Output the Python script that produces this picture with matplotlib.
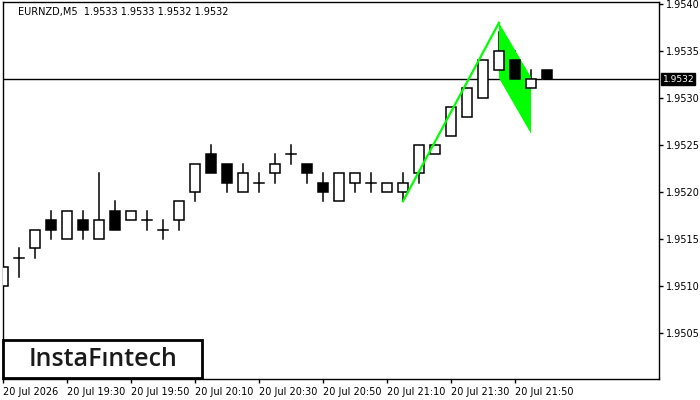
import matplotlib
matplotlib.use('Agg')
import matplotlib.pyplot as plt
from matplotlib.patches import Rectangle, Polygon

# candle data (5 min bars, EURNZD)
opens = [1.9510, 1.9513, 1.9514, 1.9517, 1.9515, 1.9517, 1.9515, 1.9518, 1.9517, 1.9517,
         1.9516, 1.9517, 1.9520, 1.9524, 1.9523, 1.9520, 1.9521, 1.9522, 1.9524, 1.9523,
         1.9521, 1.9519, 1.9521, 1.9521, 1.9520, 1.9520, 1.9522, 1.9524, 1.9526, 1.9528,
         1.9530, 1.9533, 1.9534, 1.9531, 1.9533]
highs = [1.9512, 1.9514, 1.9516, 1.9518, 1.9518, 1.9518, 1.9522, 1.9519, 1.9518, 1.9518,
         1.9517, 1.9519, 1.9523, 1.9525, 1.9523, 1.9523, 1.9522, 1.9524, 1.9525, 1.9523,
         1.9522, 1.9522, 1.9522, 1.9522, 1.9521, 1.9522, 1.9525, 1.9525, 1.9529, 1.9531,
         1.9534, 1.9537, 1.9535, 1.9533, 1.9533]
lows = [1.9509, 1.9511, 1.9513, 1.9515, 1.9515, 1.9515, 1.9515, 1.9516, 1.9517, 1.9516,
        1.9515, 1.9516, 1.9519, 1.9522, 1.9520, 1.9520, 1.9520, 1.9521, 1.9523, 1.9521,
        1.9519, 1.9519, 1.9520, 1.9520, 1.9520, 1.9519, 1.9521, 1.9524, 1.9526, 1.9528,
        1.9530, 1.9533, 1.9531, 1.9531, 1.9532]
closes = [1.9512, 1.9513, 1.9516, 1.9516, 1.9518, 1.9516, 1.9517, 1.9516, 1.9518, 1.9517,
          1.9516, 1.9519, 1.9523, 1.9522, 1.9521, 1.9522, 1.9521, 1.9523, 1.9524, 1.9522,
          1.9520, 1.9522, 1.9522, 1.9521, 1.9521, 1.9521, 1.9525, 1.9525, 1.9529, 1.9531,
          1.9534, 1.9535, 1.9532, 1.9532, 1.9532]

# bullish flag pattern: pole and flag
pole_x = [25, 31]
pole_y = [1.9519, 1.9538]
flag_x = [31, 33, 33, 31]
flag_y = [1.9538, 1.95322, 1.95262, 1.95321]

current_price = 1.9532
title = "EURNZD,M5  1.9533 1.9533 1.9532 1.9532"
yticks = [1.9505, 1.9510, 1.9515, 1.9520, 1.9525, 1.9530, 1.9535, 1.9540]
xtick_pos = [0, 4, 8, 12, 16, 20, 24, 28, 32]
xtick_labels = ["20 Jul 2026", "20 Jul 19:30", "20 Jul 19:50", "20 Jul 20:10", "20 Jul 20:30",
                "20 Jul 20:50", "20 Jul 21:10", "20 Jul 21:30", "20 Jul 21:50"]

fig = plt.figure(figsize=(7, 4), dpi=100)
ax = fig.add_axes([2.5 / 700, 21 / 400, 656.5 / 700, 377 / 400])
ax.set_xlim(-0.03, 41.0)
ax.set_ylim(1.95001, 1.95402)

# candles
w = 0.62
for i in range(len(opens)):
    o, h, l, c = opens[i], highs[i], lows[i], closes[i]
    lo_body, hi_body = min(o, c), max(o, c)
    if h > hi_body:
        ax.plot([i, i], [hi_body, h], color='black', lw=1.1, zorder=2)
    if l < lo_body:
        ax.plot([i, i], [l, lo_body], color='black', lw=1.1, zorder=2)
    if o == c:
        ax.plot([i - w / 2, i + w / 2], [o, o], color='black', lw=1.1, zorder=2)
    else:
        face = 'white' if c > o else 'black'
        ax.add_patch(Rectangle((i - w / 2, lo_body), w, hi_body - lo_body,
                               facecolor=face, edgecolor='black', lw=1.1, zorder=3))

ax.add_patch(Polygon(list(zip(flag_x, flag_y)), closed=True, facecolor='#00ff00',
                     edgecolor='none', zorder=2.5))
ax.plot(pole_x, pole_y, color='#00ff00', lw=1.6, zorder=4)

ax.axhline(current_price, color='black', lw=1, zorder=1)

ax.yaxis.tick_right()
ax.set_yticks(yticks)
ax.set_yticklabels([f"{v:.4f}" for v in yticks])
ax.tick_params(axis='y', direction='out', length=3, width=1, labelsize=7, pad=2)
ax.set_xticks(xtick_pos)
ax.set_xticklabels(xtick_labels, ha='left')
ax.tick_params(axis='x', direction='out', length=3, width=1, labelsize=7, pad=3)
for s in ax.spines.values():
    s.set_linewidth(1)

# current price label on the axis
ax.annotate(f"{current_price:.4f}", xy=(1.0, current_price), xycoords=('axes fraction', 'data'),
            xytext=(2.5, 0), textcoords='offset points', va='center', ha='left', fontsize=6.6,
            color='white', bbox=dict(boxstyle='square,pad=0.12', fc='black', ec='black'),
            annotation_clip=False)

fig.text(18 / 700, 1 - 12 / 400, title, fontsize=7, va='center', ha='left')

# logo box
fig.patches.append(Rectangle((3 / 700, 22 / 400), 199 / 700, 38 / 400, transform=fig.transFigure,
                             facecolor='white', edgecolor='black', lw=2, zorder=10))
fig.text(103 / 700, 41 / 400, "InstaF\u0131ntech", fontsize=18, ha='center', va='center',
         color='#1a1a1a', family=['Open Sans', 'DejaVu Sans'], fontweight='semibold', zorder=11)

fig.savefig('out.png', dpi=100)
